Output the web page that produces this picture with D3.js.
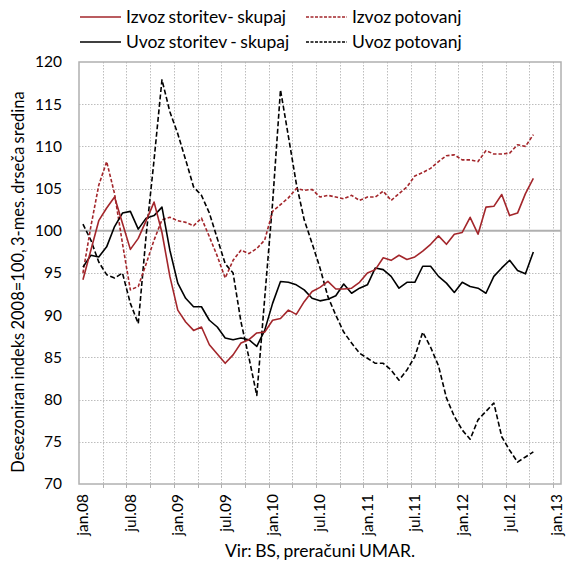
<!DOCTYPE html>
<html>
<head>
<meta charset="utf-8">
<script src="https://cdn.jsdelivr.net/npm/d3@7"></script>
<style>
  html, body { margin: 0; padding: 0; background: #fff; }
  svg text { font-family: Lato, "Open Sans", sans-serif; fill: #000; }
</style>
</head>
<body>
<svg id="chart" width="568" height="566"></svg>
<script>
// ---- DATA (monthly, jan.08 .. oct.12) ----
const nMonthsAxis = 61; // jan.08 .. jan.13 categories on axis
const yTicks = [70, 75, 80, 85, 90, 95, 100, 105, 110, 115, 120];
const xTickLabels = ["jan.08","jul.08","jan.09","jul.09","jan.10","jul.10","jan.11","jul.11","jan.12","jul.12","jan.13"];
const seriesNames = ["Izvoz storitev- skupaj", "Izvoz potovanj", "Uvoz storitev - skupaj", "Uvoz potovanj"];

const izvozSkupaj = [94.2,97.7,101.2,102.7,104.0,100.9,97.8,99.1,101.2,103.4,99.8,94.6,
  90.6,89.2,88.2,88.6,86.5,85.4,84.3,85.3,86.7,87.1,87.9,88.0,
  89.4,89.6,90.6,90.1,91.6,92.8,93.3,94.0,93.1,93.1,93.2,93.9,
  95.0,95.4,96.8,96.5,97.1,96.6,96.9,97.6,98.4,99.4,98.4,99.6,
  99.8,101.6,99.6,102.8,102.9,104.3,101.8,102.1,104.4,106.2];
const izvozPotovanj = [95.0,100.5,105.4,108.2,104.4,98.5,93.0,93.4,96.1,98.9,101.3,101.6,
  101.2,101.0,100.6,101.5,99.3,97.0,94.4,96.5,97.7,97.3,97.9,98.9,
  102.3,103.1,103.9,105.0,104.8,104.9,104.0,104.2,104.0,103.8,104.2,103.6,
  104.0,104.0,104.7,103.6,104.4,105.2,106.5,106.9,107.4,108.2,108.9,109.0,
  108.4,108.4,108.2,109.5,109.1,109.1,109.2,110.2,110.0,111.4];
const uvozSkupaj = [95.7,97.1,96.9,98.1,100.5,102.1,102.3,100.2,101.5,101.8,102.8,97.7,
  93.8,92.0,91.0,91.0,89.4,88.6,87.3,87.1,87.3,87.1,86.3,88.2,
  91.4,94.0,93.9,93.6,93.0,92.0,91.7,91.9,92.3,93.7,92.6,93.2,
  93.6,95.6,95.4,94.6,93.2,93.9,93.9,95.8,95.8,94.6,93.8,92.7,
  93.9,93.4,93.2,92.6,94.6,95.6,96.5,95.3,94.9,97.5];
const uvozPotovanj = [100.8,98.9,96.3,94.8,94.4,95.0,91.4,89.0,99.5,108.4,117.9,114.1,
  111.5,108.4,105.2,104.2,102.1,99.1,96.1,95.0,89.2,85.0,80.5,92.0,
  103.3,116.7,111.2,105.6,101.3,98.5,95.6,92.2,90.0,88.0,86.7,85.5,
  84.9,84.3,84.3,83.5,82.3,83.5,85.1,88.0,86.2,84.0,80.2,78.0,
  76.4,75.3,77.6,78.6,79.6,75.6,74.0,72.6,73.2,73.8];

// ---- LAYOUT ----
const plot = { left: 79, top: 62, right: 561, bottom: 484 };
const RED = "#A3262B";
const GRID = "#BDBDBD";

const svg = d3.select("#chart");

const months = d3.range(nMonthsAxis);
const x = d3.scaleBand().domain(months).range([plot.left, plot.right]).padding(0);
const xc = i => x(i) + x.bandwidth() / 2;
const y = d3.scaleLinear().domain([70, 120]).range([plot.bottom, plot.top]);

// vertical gridlines (quarterly, category boundaries)
const vGrid = d3.range(3, nMonthsAxis, 3);
svg.append("g").selectAll("line").data(vGrid).join("line")
  .attr("x1", d => Math.round(x(d)) + 0.5).attr("x2", d => Math.round(x(d)) + 0.5)
  .attr("y1", plot.top).attr("y2", plot.bottom)
  .attr("stroke", GRID).attr("stroke-width", 1).attr("stroke-dasharray", "1.5,1.5");

// horizontal gridlines
svg.append("g").selectAll("line").data(yTicks.filter(v => v > 70 && v < 120 && v !== 100)).join("line")
  .attr("x1", plot.left).attr("x2", plot.right)
  .attr("y1", d => Math.round(y(d)) + 0.5).attr("y2", d => Math.round(y(d)) + 0.5)
  .attr("stroke", GRID).attr("stroke-width", 1).attr("stroke-dasharray", "1.5,1.5");

// 100 line solid
svg.append("line")
  .attr("x1", plot.left).attr("x2", plot.right)
  .attr("y1", y(100)).attr("y2", y(100))
  .attr("stroke", "#B0B0B0").attr("stroke-width", 2);

// plot border
svg.append("rect")
  .attr("x", plot.left).attr("y", plot.top)
  .attr("width", plot.right - plot.left).attr("height", plot.bottom - plot.top)
  .attr("fill", "none").attr("stroke", "#B0B0B0").attr("stroke-width", 1.5);

// y axis labels
const yAxis = d3.axisLeft(y).tickValues(yTicks).tickSize(0).tickPadding(0);
const gy = svg.append("g").attr("transform", `translate(${plot.left - 17},0)`).call(yAxis);
gy.select(".domain").remove();
gy.selectAll("text").attr("font-size", 15.5).attr("font-family", "Lato, sans-serif").attr("fill", "#000");

// x axis labels (every 6 months)
const labelIdx = d3.range(0, nMonthsAxis, 6);
const xAxis = d3.axisBottom(x).tickValues(labelIdx)
  .tickFormat((d, i) => xTickLabels[i]).tickSize(0);
const gx = svg.append("g").attr("transform", `translate(0,${plot.bottom})`).call(xAxis);
gx.select(".domain").remove();
gx.selectAll("text")
  .attr("font-size", 15.5).attr("font-family", "Lato, sans-serif").attr("fill", "#000")
  .attr("text-anchor", "end")
  .attr("transform", "rotate(-90)")
  .attr("x", -10).attr("y", 0).attr("dy", "0.35em");

// small tick marks at bottom
svg.append("g").selectAll("line").data(vGrid).join("line")
  .attr("x1", d => Math.round(x(d)) + 0.5).attr("x2", d => Math.round(x(d)) + 0.5)
  .attr("y1", plot.bottom).attr("y2", plot.bottom + 4)
  .attr("stroke", "#B0B0B0");

// series
const series = [
  { name: seriesNames[0], values: izvozSkupaj, color: RED, dash: null },
  { name: seriesNames[1], values: izvozPotovanj, color: RED, dash: "3.5,2" },
  { name: seriesNames[2], values: uvozSkupaj, color: "#000", dash: null },
  { name: seriesNames[3], values: uvozPotovanj, color: "#000", dash: "5,2.5" }
];
const line = d3.line().x((d, i) => xc(i)).y(d => y(d));
const drawOrder = [3, 1, 2, 0];
drawOrder.forEach(k => {
  const s = series[k];
  svg.append("path").datum(s.values)
    .attr("d", line).attr("fill", "none")
    .attr("stroke", s.color).attr("stroke-width", 1.6)
    .attr("stroke-dasharray", s.dash)
    .attr("stroke-linejoin", "round");
});

// legend
const legendPos = [
  { x: 80, y: 17 }, { x: 306, y: 17 }, { x: 80, y: 42 }, { x: 306, y: 42 }
];
series.forEach((s, k) => {
  const p = legendPos[k];
  svg.append("line").attr("x1", p.x).attr("x2", p.x + 41)
    .attr("y1", p.y).attr("y2", p.y)
    .attr("stroke", s.color).attr("stroke-width", 1.6)
    .attr("stroke-dasharray", s.dash ? "3,1.5" : null);
  svg.append("text").attr("x", p.x + 46).attr("y", p.y).attr("dy", "0.35em")
    .attr("font-size", 17.5).attr("word-spacing", "-1px").text(s.name);
});

// y axis title
svg.append("text")
  .attr("transform", `translate(18,${(plot.top + plot.bottom) / 2 + 9}) rotate(-90)`)
  .attr("text-anchor", "middle").attr("dy", "0.35em")
  .attr("font-size", 16.5).attr("word-spacing", "-1px")
  .text("Desezoniran indeks 2008=100, 3-mes. drseča sredina");

// source
svg.append("text")
  .attr("x", 320).attr("y", 557).attr("text-anchor", "middle")
  .attr("font-size", 17.5).attr("word-spacing", "-1px")
  .text("Vir: BS, preračuni UMAR.");
</script>
</body>
</html>
